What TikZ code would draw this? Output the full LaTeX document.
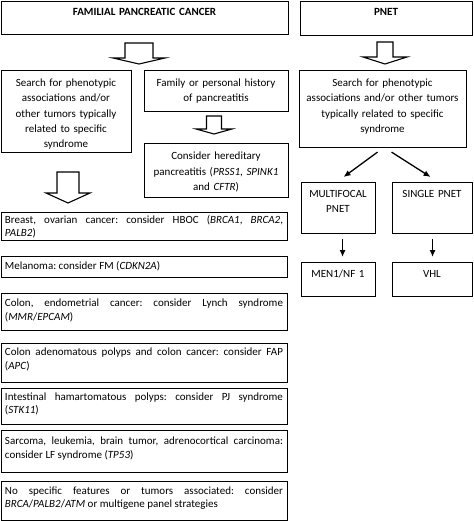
\documentclass[tikz,border=0pt]{standalone}
\usepackage{fontspec}
\setmainfont{Carlito}
\usetikzlibrary{arrows.meta}
\frenchspacing
\newdimen\tbW
\newdimen\tbH
\newdimen\tbT
% #1 name, #2 x1, #3 y1, #4 x2, #5 y2, #6 first baseline offset, #7 baselineskip, #8 align, #9 text
\newcommand\tbox[9]{%
  \tbW=#4pt \advance\tbW by -#2pt
  \tbH=#5pt \advance\tbH by -#3pt
  \tbT=\tbW \advance\tbT by -8pt
  \node[boxst, minimum width=\tbW, minimum height=\tbH, anchor=north west] (#1) at (#2,#3) {};
  \node[txtst, font=\fontsize{11}{#7}\selectfont\frenchspacing, text width=\tbT, align=#8, anchor=base] (#1-t) at ({(#2+#4)/2},{#3+#6}) {#9};
}
% block arrow: #1 cx, #2 top, #3 shaft half width, #4 head base, #5 head half width, #6 tip
\newcommand\blockarrow[6]{%
  \draw[blk] ({#1-#3},#2) -- ({#1+#3},#2) -- ({#1+#3},#4) -- ({#1+#5},#4) -- (#1,#6)
    -- ({#1-#5},#4) -- ({#1-#3},#4) -- cycle;
}
\tikzset{
  boxst/.style={draw=black, line width=1.1pt, inner sep=0pt, rectangle},
  txtst/.style={inner sep=0pt, text=black},
  blk/.style={draw=black, line width=1.1pt, fill=white, line join=miter},
  arr/.style={draw=black, line width=1.3pt, -{Latex[length=7pt,width=6pt]}},
}
\begin{document}
\begin{tikzpicture}[x=1pt,y=-1pt]
\useasboundingbox[fill=white] (0,0) rectangle (473,521);
% left column
\tbox{fpc}{1}{1}{288}{34}{15}{15}{center}{\textbf{FAMILIAL PANCREATIC CANCER}}
\tbox{lsearch}{1}{70}{131}{152}{16.5}{15.3}{center}{Search for phenotypic\\associations and/or\\other tumors typically\\related to specific\\syndrome}
\tbox{family}{144}{70}{288}{111}{16.5}{15.3}{center}{Family or personal history\\of pancreatitis}
\tbox{hered}{144}{143}{288}{197}{17}{15.3}{center}{Consider hereditary\\pancreatitis (\textit{PRSS1}, \textit{SPINK1}\\and \textit{CFTR})}
\tbox{breast}{1}{212}{287}{240}{11}{13.5}{justify}{Breast, ovarian cancer: consider HBOC (\textit{BRCA1}, \textit{BRCA2},\linebreak \textit{PALB2})}
\tbox{mel}{1}{256}{287}{277}{13}{13.5}{justify}{Melanoma: consider FM (\textit{CDKN2A})}
\tbox{lynch}{1}{293}{287}{330}{13.5}{13.5}{justify}{Colon, endometrial cancer: consider Lynch syndrome\linebreak (\textit{MMR}/\textit{EPCAM})}
\tbox{fap}{1}{343}{287}{382}{12.5}{13.5}{justify}{Colon adenomatous polyps and colon cancer: consider FAP\linebreak (\textit{APC})}
\tbox{pj}{1}{388}{287}{424}{12}{13.5}{justify}{Intestinal hamartomatous polyps: consider PJ syndrome\linebreak (\textit{STK11})}
\tbox{lf}{1}{430}{287}{472}{14.5}{14}{justify}{Sarcoma, leukemia, brain tumor, adrenocortical carcinoma:\linebreak consider LF syndrome (\textit{TP53})}
\tbox{nospec}{1}{481}{287}{520}{13}{13.5}{justify}{No specific features or tumors associated: consider\linebreak \textit{BRCA}/\textit{PALB2}/\textit{ATM} or multigene panel strategies}
% right column
\tbox{pnet}{300}{1}{472}{35}{15}{15}{center}{\textbf{PNET}}
\tbox{rsearch}{299}{70}{466}{147}{16.5}{15.3}{center}{Search for phenotypic\\associations and/or other tumors\\typically related to specific\\syndrome}
\tbox{multi}{301}{182}{375}{233}{15}{15}{center}{MULTIFOCAL\\PNET}
\tbox{single}{392}{182}{472}{233}{15}{15}{center}{SINGLE PNET}
\tbox{men}{301}{262}{375}{296}{15}{15}{center}{MEN1/NF 1}
\tbox{vhl}{392}{262}{472}{296}{15}{15}{center}{VHL}
% block arrows
\blockarrow{139}{43}{14}{58}{26}{64}
\blockarrow{214}{116}{7.5}{129}{18}{134}
\blockarrow{68}{172}{11}{193}{22}{203}
\blockarrow{385}{42}{8}{57}{22}{64}
% thin arrows
\draw[arr] ([xshift=-5.5pt,yshift=-4pt]rsearch.south) -- ([xshift=5pt,yshift=5pt]multi.north);
\draw[arr] ([xshift=8.5pt,yshift=-4pt]rsearch.south) -- ([xshift=-2pt,yshift=5pt]single.north);
\draw[arr] ([xshift=4pt,yshift=-5pt]multi.south) -- ([xshift=4pt,yshift=5pt]men.north);
\draw[arr] ([xshift=0pt,yshift=-5pt]single.south) -- ([xshift=0pt,yshift=5pt]vhl.north);
\end{tikzpicture}
\end{document}
